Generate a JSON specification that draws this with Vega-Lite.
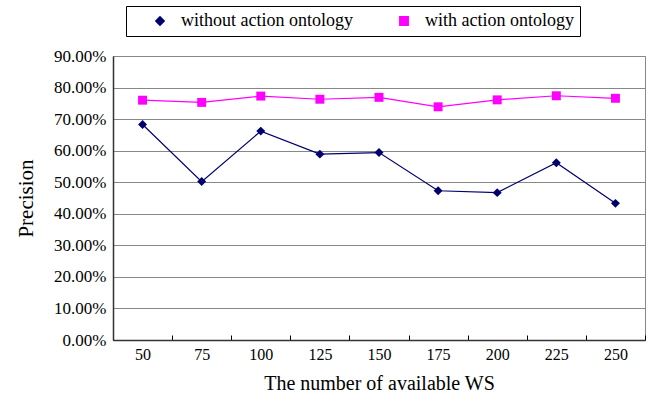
{
  "$schema": "https://vega.github.io/schema/vega-lite/v6.json",
  "autosize": "none",
  "width": 532,
  "height": 284,
  "padding": {"left": 113, "top": 56, "right": 10, "bottom": 57},
  "background": "white",
  "config": {
    "font": "Liberation Serif",
    "view": {"stroke": "#888888", "strokeWidth": 1}
  },
  "data": {
    "values": [
      {"ws": "50", "series": "without action ontology", "p": 0.683},
      {"ws": "75", "series": "without action ontology", "p": 0.502},
      {"ws": "100", "series": "without action ontology", "p": 0.662},
      {"ws": "125", "series": "without action ontology", "p": 0.589},
      {"ws": "150", "series": "without action ontology", "p": 0.594},
      {"ws": "175", "series": "without action ontology", "p": 0.473},
      {"ws": "200", "series": "without action ontology", "p": 0.467},
      {"ws": "225", "series": "without action ontology", "p": 0.562},
      {"ws": "250", "series": "without action ontology", "p": 0.433},
      {"ws": "50", "series": "with action ontology", "p": 0.760},
      {"ws": "75", "series": "with action ontology", "p": 0.753},
      {"ws": "100", "series": "with action ontology", "p": 0.773},
      {"ws": "125", "series": "with action ontology", "p": 0.763},
      {"ws": "150", "series": "with action ontology", "p": 0.769},
      {"ws": "175", "series": "with action ontology", "p": 0.739},
      {"ws": "200", "series": "with action ontology", "p": 0.761},
      {"ws": "225", "series": "with action ontology", "p": 0.774},
      {"ws": "250", "series": "with action ontology", "p": 0.766}
    ]
  },
  "encoding": {
    "x": {
      "field": "ws", "type": "ordinal", "sort": null,
      "scale": {"paddingInner": 0, "paddingOuter": 0},
      "axis": {
        "title": "The number of available WS",
        "titleFont": "Liberation Serif", "titleFontSize": 20, "titleFontWeight": "normal", "titleColor": "black", "titlePadding": 11,
        "labelFont": "Liberation Serif", "labelFontSize": 16, "labelColor": "black", "labelAngle": 0, "labelPadding": 11,
        "tickBand": "extent", "tickSize": -5, "tickColor": "black",
        "domainColor": "#333333", "domainWidth": 1.5, "grid": false
      }
    },
    "y": {
      "field": "p", "type": "quantitative",
      "scale": {"domain": [0, 0.9]},
      "axis": {
        "title": "Precision",
        "titleFont": "Liberation Serif", "titleFontSize": 21, "titleFontWeight": "normal", "titleColor": "black", "titlePadding": 17,
        "labelFont": "Liberation Serif", "labelFontSize": 17, "labelColor": "black", "labelPadding": 7,
        "format": ".2%", "values": [0, 0.1, 0.2, 0.3, 0.4, 0.5, 0.6, 0.7, 0.8, 0.9],
        "ticks": false, "domainColor": "#333333", "domainWidth": 1.5,
        "grid": true, "gridColor": "#888888", "gridWidth": 1.2
      }
    },
    "color": {
      "field": "series", "type": "nominal",
      "scale": {"domain": ["without action ontology", "with action ontology"], "range": ["#00006e", "#ff00ff"]},
      "legend": {
        "title": null, "orient": "none", "legendX": 13, "legendY": -50, "direction": "horizontal",
        "labelFont": "Liberation Serif", "labelFontSize": 18, "labelColor": "black", "labelLimit": 400,
        "strokeColor": "black", "padding": 6, "columnPadding": 23, "symbolSize": 70,
        "symbolOffset": 19, "labelOffset": 12
      }
    },
    "shape": {
      "field": "series", "type": "nominal",
      "scale": {"domain": ["without action ontology", "with action ontology"], "range": ["diamond", "square"]}
    }
  },
  "layer": [
    {
      "mark": {"type": "line", "strokeWidth": 1.2},
      "encoding": {"shape": null}
    },
    {
      "mark": {"type": "point", "filled": true, "opacity": 1, "size": 80}
    }
  ]
}
